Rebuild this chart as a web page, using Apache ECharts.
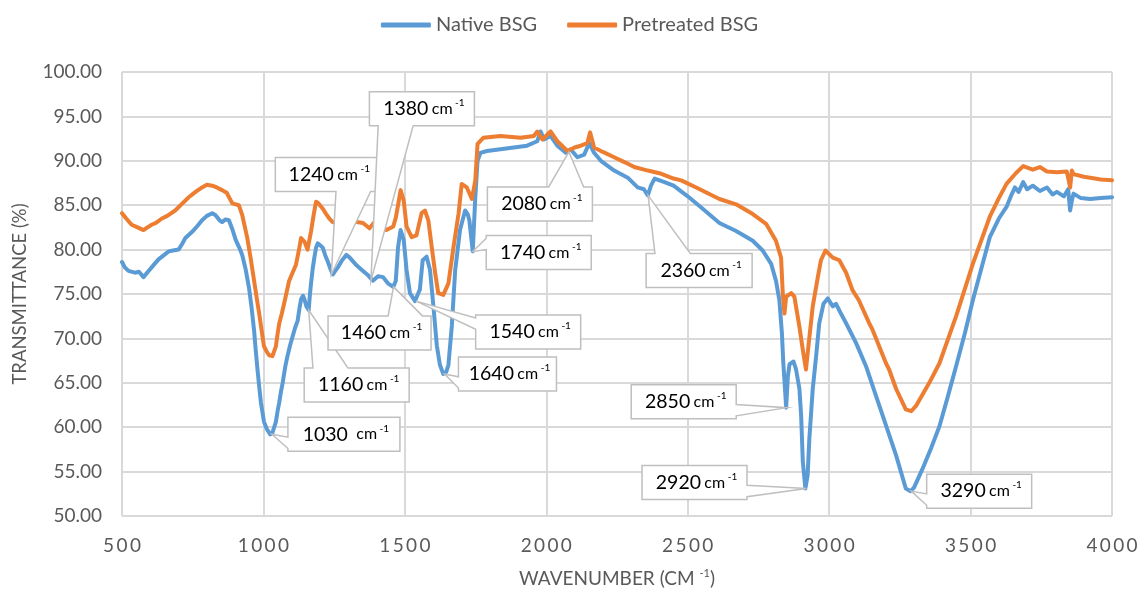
<!DOCTYPE html>
<html><head><meta charset="utf-8">
<script src="https://cdn.jsdelivr.net/npm/echarts@6/dist/echarts.min.js"></script>
<style>html,body{margin:0;padding:0;background:#fff}#c{width:1139px;height:590px}</style>
</head><body><div id="c"></div><script>
// ---- data ----
const nativeWn = [500,510,523,546,560,576,594,610,629,645,665,680,700,712,724,748,765,783,800,819,830,845,854,866,878,890,902,915,925,937,949,958,967,973,979,985,991,997,1002,1012,1024,1032,1044,1050,1056,1062,1068,1077,1085,1094,1103,1112,1121,1127,1133,1140,1145,1152,1160,1164,1168,1174,1180,1186,1192,1200,1210,1218,1227,1236,1245,1254,1263,1278,1293,1305,1316,1330,1352,1370,1387,1405,1423,1440,1459,1468,1476,1485,1496,1506,1518,1536,1553,1563,1577,1589,1601,1613,1624,1636,1646,1654,1666,1678,1695,1713,1722,1728,1740,1749,1757,1767,1790,1838,1885,1932,1968,1980,1992,2015,2039,2069,2086,2110,2134,2152,2169,2193,2240,2288,2323,2345,2359,2370,2383,2418,2450,2500,2553,2612,2671,2730,2765,2795,2812,2824,2833,2838,2844,2848,2854,2860,2874,2883,2895,2901,2907,2916,2924,2930,2942,2954,2965,2980,2995,3005,3013,3024,3040,3060,3095,3130,3166,3201,3237,3271,3288,3300,3330,3360,3390,3420,3449,3480,3508,3540,3568,3600,3627,3645,3657,3670,3686,3700,3720,3745,3770,3790,3805,3830,3845,3852,3858,3864,3890,3923,3960,4000];
const nativeT = [78.6,78.0,77.6,77.4,77.5,76.9,77.6,78.2,78.9,79.3,79.8,79.9,80.0,80.6,81.3,82.0,82.6,83.3,83.8,84.1,83.9,83.3,83.1,83.4,83.3,82.3,81.1,80.2,79.4,77.8,75.7,73.5,70.9,68.6,66.5,64.6,62.8,61.6,60.6,59.8,59.2,59.4,60.6,61.8,62.8,64.0,65.0,66.8,68.0,69.2,70.2,71.2,72.0,73.3,74.4,74.8,74.4,73.6,73.2,74.8,76.1,77.8,79.1,80.2,80.7,80.5,80.2,79.4,78.7,77.9,77.2,77.6,78.0,78.8,79.4,79.1,78.7,78.2,77.6,77.1,76.5,77.0,76.9,76.2,75.8,76.5,80.3,82.2,81.1,77.7,75.1,74.2,75.5,78.8,79.2,77.7,73.6,69.2,67.0,66.0,66.2,67.0,71.4,77.7,82.2,84.4,84.0,83.3,79.8,85.9,90.0,90.9,91.1,91.3,91.5,91.7,92.2,93.3,92.4,92.8,91.7,90.9,91.3,90.4,90.7,92.0,90.9,90.0,88.9,88.1,87.0,86.8,86.1,87.2,88.0,87.6,87.2,86.0,84.6,83.0,82.1,81.0,79.9,78.4,76.5,74.3,70.6,67.2,64.3,62.2,65.7,67.1,67.4,66.5,64.3,61.3,56.1,53.1,54.6,58.7,64.3,68.0,71.7,73.9,74.5,74.0,73.6,73.9,72.9,71.7,69.5,66.9,63.5,60.2,56.8,53.1,52.8,53.2,55.3,57.6,60.1,63.5,66.9,70.6,74.3,78.1,81.4,83.5,84.8,86.2,87.0,86.5,87.6,86.8,87.2,86.6,87.0,86.2,86.5,86.0,86.8,84.4,85.5,86.3,85.8,85.7,85.8,85.9];
const pretreatedWn = [500,515,534,555,576,590,605,620,641,660,688,710,736,760,783,800,819,835,854,870,890,913,925,943,955,967,976,985,994,1002,1012,1020,1032,1044,1050,1056,1065,1073,1082,1091,1103,1115,1124,1133,1139,1145,1156,1162,1168,1177,1186,1195,1210,1222,1233,1245,1257,1280,1305,1330,1352,1375,1387,1399,1420,1435,1459,1468,1476,1485,1496,1506,1524,1541,1559,1571,1583,1595,1607,1618,1636,1654,1672,1690,1701,1719,1737,1749,1757,1778,1838,1909,1956,1968,1986,2015,2039,2075,2100,2122,2145,2155,2169,2200,2240,2280,2311,2359,2400,2450,2477,2530,2612,2671,2730,2777,2812,2830,2836,2842,2848,2866,2877,2895,2907,2918,2928,2942,2960,2971,2987,3013,3036,3060,3083,3105,3142,3153,3201,3212,3237,3271,3290,3307,3354,3390,3449,3508,3568,3600,3627,3660,3686,3720,3745,3770,3805,3840,3852,3858,3864,3900,3923,3960,4000];
const pretreatedT = [84.1,83.5,82.8,82.5,82.2,82.5,82.8,83.0,83.5,83.8,84.4,85.1,85.9,86.5,87.0,87.3,87.2,87.0,86.7,86.4,85.2,85.0,83.9,81.3,79.0,76.5,74.6,72.8,70.8,69.1,68.5,68.1,68.0,69.1,70.5,71.7,72.8,73.9,75.2,76.5,77.4,78.3,79.7,81.3,81.4,80.9,80.0,81.0,82.0,83.8,85.4,85.2,84.6,84.0,83.5,83.1,83.0,83.4,83.3,83.1,83.0,82.4,82.9,83.3,82.6,82.2,82.6,83.6,85.0,86.7,85.5,82.6,81.4,81.6,84.1,84.4,83.3,80.3,77.4,75.1,74.9,76.2,80.3,84.1,87.4,87.0,85.7,87.8,91.9,92.6,92.8,92.6,92.8,93.3,92.4,93.3,92.2,91.1,91.5,91.7,92.0,93.2,91.5,91.0,90.4,89.8,89.3,88.9,88.6,88.0,87.8,87.0,85.7,85.1,84.0,82.9,81.0,79.1,75.1,72.8,74.7,75.1,74.7,71.3,68.7,66.5,69.5,73.6,76.9,78.8,79.9,79.1,78.8,77.4,75.4,74.3,71.7,71.0,67.2,66.5,64.3,62.0,61.8,62.4,65.0,67.2,72.5,78.4,83.7,85.8,87.4,88.6,89.4,89.0,89.3,88.8,88.7,88.8,87.0,88.9,88.5,88.2,88.1,87.9,87.8];
const peakWn = [1030,1160,1240,1380,1460,1540,1640,1740,2080,2360,2850,2920,3290];
const peakT  = [59.2,73.2,77.2,76.5,75.8,74.2,66.0,79.8,91.0,86.1,62.2,53.1,52.8];
const peakText = ['1030 ','1160','1240','1380','1460','1540','1640','1740','2080','2360','2850','2920','3290'];
const seriesNames = ['Native BSG','Pretreated BSG'];

// ---- layout of callouts (pixel offset of box centre from the peak, box width) ----
const calloutLayout = [[72,0,112],[48,75,105],[-4,-100,104],[51,-172,105],[-14,46,103],[112,31,105],[63,0,98],[66,1,105],[-29,52,105],[51,75,106],[-103,-6,105],[-112,-6,105],[68,0,105]];

const FONT = 'Lato';
const TXT = '#595959';
const chart = echarts.init(document.getElementById('c'), null, {renderer:'canvas'});

function callout(params, api){
  const i = params.dataIndex;
  const p = api.coord([api.value(0), api.value(1)]);
  const [dx, dy, w] = calloutLayout[i];
  const h = 34;
  const cx = p[0]+dx, cy = p[1]+dy;
  const x0 = cx-w/2, x1 = cx+w/2, y0 = cy-h/2, y1 = cy+h/2;
  const ddx = p[0]-cx, ddy = p[1]-cy;
  let pts;
  if (Math.abs(ddx)/w > Math.abs(ddy)/h) {
    const ya = ddy < 0 ? y0 + h/12 : y0 + 7*h/12;
    const yb = ddy < 0 ? y0 + 5*h/12 : y0 + 11*h/12;
    if (ddx > 0) pts = [[x0,y0],[x1,y0],[x1,ya],p,[x1,yb],[x1,y1],[x0,y1]];
    else pts = [[x0,y0],[x1,y0],[x1,y1],[x0,y1],[x0,yb],p,[x0,ya]];
  } else {
    const xa = ddx < 0 ? x0 + w/12 : x0 + 7*w/12;
    const xb = ddx < 0 ? x0 + 5*w/12 : x0 + 11*w/12;
    if (ddy > 0) pts = [[x0,y0],[x1,y0],[x1,y1],[xb,y1],p,[xa,y1],[x0,y1]];
    else pts = [[x0,y0],[xa,y0],p,[xb,y0],[x1,y0],[x1,y1],[x0,y1]];
  }
  return {type:'group', children:[
    {type:'polygon', shape:{points:pts}, style:{fill:'#fff', stroke:'#BFBFBF', lineWidth:1.5}},
    {type:'text', x:cx+2, y:cy, style:{
      text:'{n|'+peakText[i]+'} {u|cm}{s| -1}',
      align:'center', verticalAlign:'middle',
      rich:{
        n:{fontFamily:FONT,fontSize:19.5,color:'#404040',lineHeight:22,verticalAlign:'middle'},
        u:{fontFamily:FONT,fontSize:16,color:'#404040',lineHeight:22,verticalAlign:'middle'},
        s:{fontFamily:FONT,fontSize:10,color:'#404040',lineHeight:22,verticalAlign:'top'}
      }}}
  ]};
}

chart.setOption({
  animation:false,
  legend:{
    top:10, left:'center', itemGap:30, itemWidth:50, itemHeight:5,
    data:seriesNames.map(n=>({name:n, icon:'roundRect'})),
    textStyle:{fontFamily:FONT, fontSize:20, color:TXT}
  },
  grid:{left:122, right:27, top:72, bottom:74, containLabel:false, outerBoundsMode:'none'},
  xAxis:{
    type:'value', min:500, max:4000, interval:500,
    name:'WAVENUMBER (CM {s|-1})', nameLocation:'middle', nameGap:52,
    nameTextStyle:{fontFamily:FONT, fontSize:19, color:TXT, lineHeight:22,
      rich:{s:{fontFamily:FONT,fontSize:11,color:TXT,verticalAlign:'top',lineHeight:22}}},
    axisLine:{show:false}, axisTick:{show:false},
    axisLabel:{margin:20, fontFamily:FONT, fontSize:19, color:TXT,
      formatter:v=>String(v).split('').join('\u2009')},
    splitLine:{show:true, lineStyle:{color:'#D9D9D9', width:2}}
  },
  yAxis:{
    type:'value', min:50, max:100, interval:5,
    name:'TRANSMITTANCE (%)', nameLocation:'middle', nameGap:92, nameRotate:90,
    nameTextStyle:{fontFamily:FONT, fontSize:18.5, color:TXT},
    axisLine:{show:false}, axisTick:{show:false},
    axisLabel:{margin:20, fontFamily:FONT, fontSize:19, color:TXT, formatter:v=>v.toFixed(2)},
    splitLine:{show:true, lineStyle:{color:'#D9D9D9', width:2}}
  },
  series:[
    {name:seriesNames[0], type:'line', showSymbol:false, color:'#5B9BD5',
     lineStyle:{width:4, color:'#5B9BD5', cap:'round', join:'round'},
     data:nativeWn.map((w,i)=>[w,nativeT[i]]), z:2},
    {name:seriesNames[1], type:'line', showSymbol:false, color:'#ED7D31',
     lineStyle:{width:4, color:'#ED7D31', cap:'round', join:'round'},
     data:pretreatedWn.map((w,i)=>[w,pretreatedT[i]]), z:3},
    {name:'peaks', type:'custom', renderItem:callout, clip:false, z:10,
     encode:{x:0,y:1}, data:peakWn.map((w,i)=>[w,peakT[i]])}
  ]
});
</script></body></html>
